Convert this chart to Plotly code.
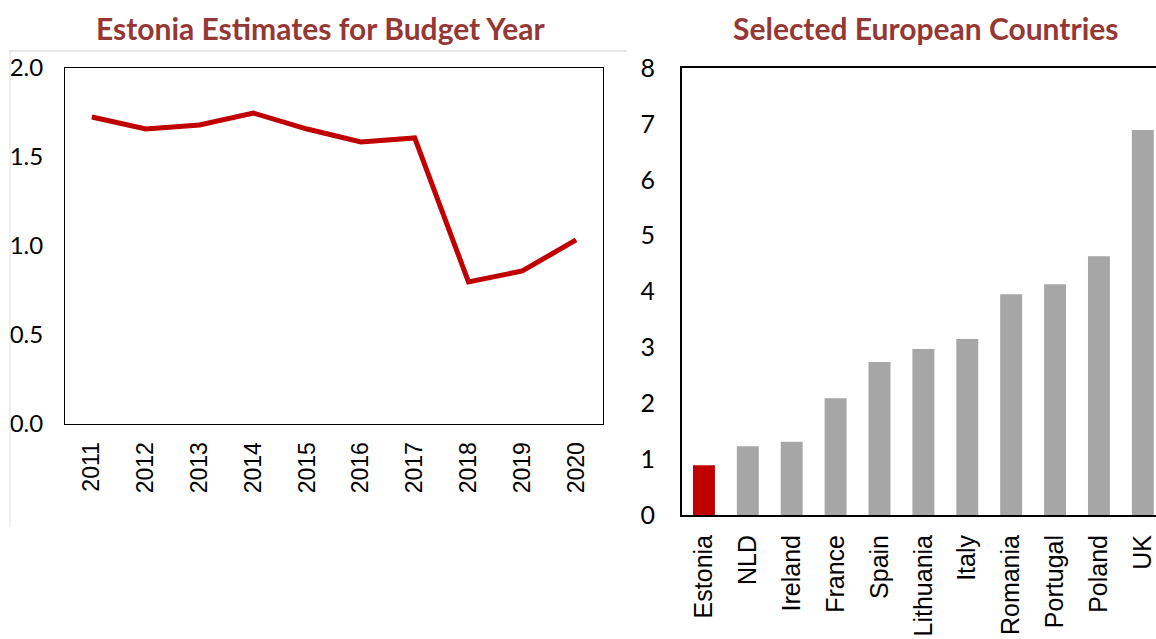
import plotly.graph_objects as go

# data
years = ["2011", "2012", "2013", "2014", "2015", "2016", "2017", "2018", "2019", "2020"]
estonia_est = [1.725, 1.657, 1.68, 1.747, 1.657, 1.584, 1.607, 0.798, 0.86, 1.034]

countries = ["Estonia", "NLD", "Ireland", "France", "Spain", "Lithuania", "Italy",
             "Romania", "Portugal", "Poland", "UK"]
country_vals = [0.89, 1.23, 1.31, 2.09, 2.74, 2.97, 3.15, 3.95, 4.13, 4.63, 6.89]

W, H = 1156, 639


def fx(px):
    return px / W


def fy(py):
    return 1 - py / H


title_color = "#953735"
red = "#C00000"
grey = "#A6A6A6"

bar_colors = [red if c == "Estonia" else grey for c in countries]

fig = go.Figure()

# left panel: line
fig.add_trace(go.Scatter(
    x=years, y=estonia_est, mode="lines",
    line=dict(color=red, width=5),
    xaxis="x", yaxis="y", showlegend=False, hoverinfo="x+y"
))

# right panel: bars
fig.add_trace(go.Bar(
    x=countries, y=country_vals, marker=dict(color=bar_colors, line_width=0),
    xaxis="x2", yaxis="y2", showlegend=False
))

fig.update_layout(
    width=W, height=H,
    margin=dict(l=0, r=0, t=0, b=0, autoexpand=False),
    paper_bgcolor="white", plot_bgcolor="white",
    bargap=0.5,
    xaxis=dict(
        domain=[fx(65), fx(603)], anchor="y", automargin=False,
        range=[-0.5, 9.5],
        showline=True, linecolor="black", linewidth=1, mirror=True,
        showgrid=False, ticks="", tickangle=-90,
        tickfont=dict(family="Liberation Sans", size=23, color="black"),
        ticklabelstandoff=8,
    ),
    yaxis=dict(
        domain=[fy(424), fy(68)], anchor="x", automargin=False,
        range=[0, 2], tickvals=[0, 0.5, 1, 1.5, 2], tickformat=".1f",
        showline=True, linecolor="black", linewidth=1, mirror=True,
        showgrid=False, zeroline=False, ticks="",
        tickfont=dict(family="Lato", size=24, color="black"),
        ticklabelstandoff=16,
    ),
    xaxis2=dict(
        domain=[fx(682), 1.0], anchor="y2", automargin=False,
        range=[-0.5, 10.3],
        showline=True, linecolor="black", linewidth=2, mirror=True,
        showgrid=False, ticks="", tickangle=-90,
        tickfont=dict(family="Liberation Sans", size=25, color="black"),
        ticklabelstandoff=8,
    ),
    yaxis2=dict(
        domain=[fy(515), fy(68)], anchor="x2", automargin=False,
        range=[0, 8], dtick=1,
        showline=True, linecolor="black", linewidth=2,
        showgrid=False, zeroline=False, ticks="",
        tickfont=dict(family="Lato", size=25, color="black"),
        ticklabelstandoff=20,
    ),
    annotations=[
        dict(text="<b>Estonia Estimates for Budget Year</b>", x=fx(321), y=fy(28),
             xref="paper", yref="paper", xanchor="center", yanchor="middle", showarrow=False,
             font=dict(family="Lato", size=30, color=title_color)),
        dict(text="<b>Selected European Countries</b>", x=fx(925), y=fy(28),
             xref="paper", yref="paper", xanchor="center", yanchor="middle", showarrow=False,
             font=dict(family="Lato", size=30, color=title_color)),
    ],
    shapes=[
        dict(type="line", xref="paper", yref="paper", x0=fx(9), x1=fx(627),
             y0=fy(51), y1=fy(51), line=dict(color="#D0D0D0", width=1)),
        dict(type="line", xref="paper", yref="paper", x0=fx(10), x1=fx(10),
             y0=fy(51), y1=fy(527), line=dict(color="#E0E0E0", width=1)),
    ],
)

# drop the default page margin so the figure fills the window exactly
fig.write_html("out.html", config={"displayModeBar": False},
               post_script="document.body.style.margin='0';document.body.style.overflow='hidden';")
